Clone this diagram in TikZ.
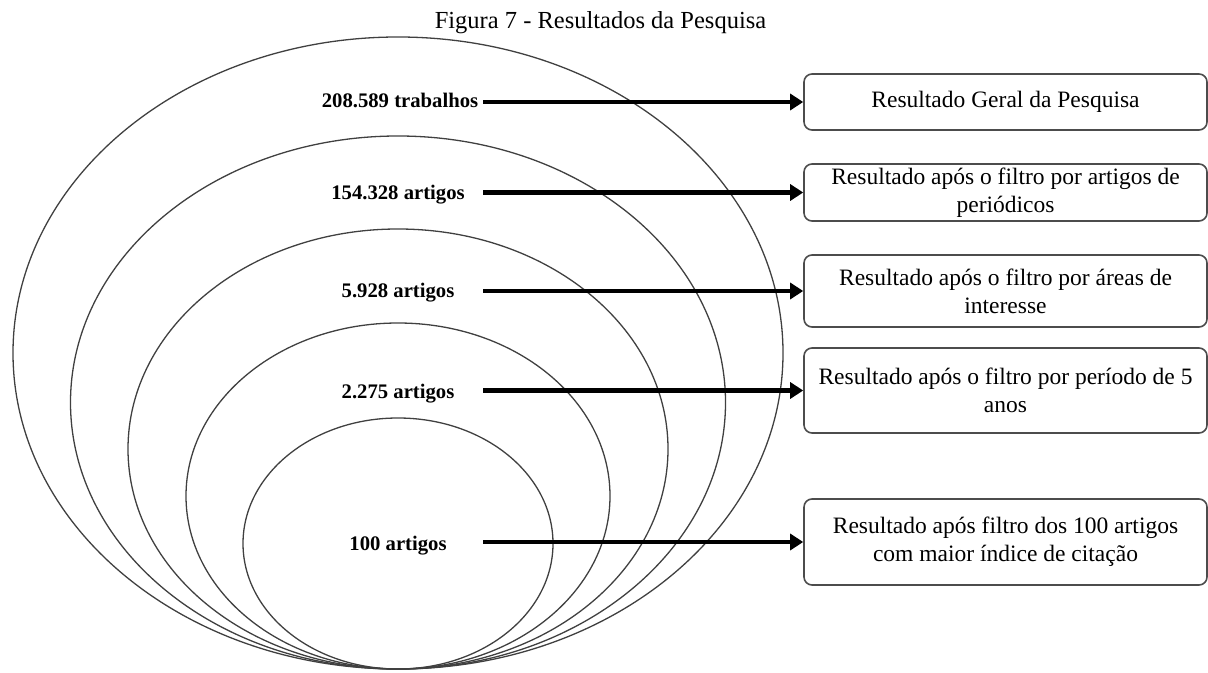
\documentclass[tikz,border=0pt]{standalone}
\usepackage{fontspec}
\setmainfont{Liberation Serif}
\usetikzlibrary{arrows.meta}
\begin{document}
\begin{tikzpicture}[x=0.5pt,y=0.5pt,
  ring/.style={draw=black!75,line width=0.65pt},
  countlabel/.style={font=\rmfamily\bfseries\fontsize{10.35}{12}\selectfont,anchor=base,inner sep=0pt},
  resultbox/.style={draw=black!70,line width=0.8pt,rounded corners=4pt,minimum width=201.5pt,align=center,inner sep=0pt,font=\rmfamily\fontsize{11.75}{14}\selectfont},
  flow/.style={line width=2.1pt,-{Triangle[length=6.5pt,width=8pt]}}]
\useasboundingbox (0,0) rectangle (1208,-673);
% title
\node[anchor=base,inner sep=0pt,font=\rmfamily\fontsize{12.25}{14}\selectfont] (title) at (600.5,-28.3) {Figura 7 - Resultados da Pesquisa};
% nested ellipses
\draw[ring] (398,-353) ellipse [x radius=385, y radius=316];
\draw[ring] (398,-402.5) ellipse [x radius=327.5, y radius=266.5];
\draw[ring] (398,-449) ellipse [x radius=270, y radius=220];
\draw[ring] (398,-496) ellipse [x radius=212, y radius=173];
\draw[ring] (398,-543.5) ellipse [x radius=155, y radius=125.5];
% labels
\node[countlabel] (l1) at (400,-108) {208.589 trabalhos};
\node[countlabel] (l2) at (398,-200) {154.328 artigos};
\node[countlabel] (l3) at (398,-298) {5.928 artigos};
\node[countlabel] (l4) at (398,-398) {2.275 artigos};
\node[countlabel] (l5) at (398,-550) {100 artigos};
% boxes
\node[resultbox,minimum height=28pt] (b1) at (1005.5,-102) {Resultado Geral da Pesquisa};
\node[resultbox,minimum height=28.5pt] (b2) at (1005.5,-192.5) {Resultado após o filtro por artigos de\\periódicos};
\node[resultbox,minimum height=36pt] (b3) at (1005.5,-291) {Resultado após o filtro por áreas de\\interesse};
\node[resultbox,minimum height=42.5pt] (b4) at (1005.5,-390.5) {Resultado após o filtro por período de 5\\anos};
\node[resultbox,minimum height=43pt] (b5) at (1005.5,-542) {Resultado após filtro dos 100 artigos\\com maior índice de citação};
% arrow starts
\coordinate (s1) at (483,-102);
\coordinate (s2) at (483,-192.5);
\coordinate (s3) at (483,-291);
\coordinate (s4) at (483,-390.5);
\coordinate (s5) at (483,-542);
\draw[flow] (s1) -- (b1.west);
\draw[flow] (s2) -- (b2.west);
\draw[flow] (s3) -- (b3.west);
\draw[flow] (s4) -- (b4.west);
\draw[flow] (s5) -- (b5.west);
\end{tikzpicture}
\end{document}
